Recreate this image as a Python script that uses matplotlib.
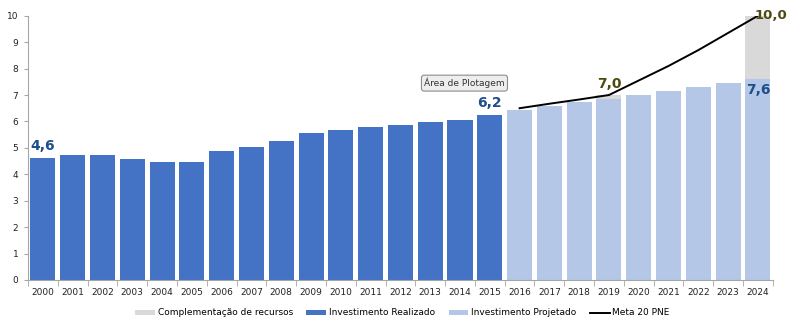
import matplotlib.pyplot as plt
import numpy as np

# dados
anos = [str(a) for a in range(2000, 2025)]
realizado = [4.6, 4.73, 4.73, 4.57, 4.45, 4.48, 4.87, 5.03, 5.26, 5.56, 5.67, 5.79, 5.86,
             5.99, 6.05, 6.24]
projetado = [6.44, 6.58, 6.72, 6.85, 7.0, 7.15, 7.3, 7.44, 7.6]
complemento = [0, 0, 0, 0.15, 0, 0, 0, 0, 2.4]
meta_anos = ['2016', '2017', '2018', '2019', '2020', '2021', '2022', '2023', '2024']
meta = [6.5, 6.67, 6.83, 7.0, 7.55, 8.1, 8.7, 9.35, 10.0]

azul = '#4472C4'
azul_claro = '#B4C7E7'
cinza = '#D9D9D9'

fig = plt.figure(figsize=(7.89, 3.18), dpi=100)
ax = fig.add_axes([0.0355, 0.1195, 0.944, 0.831])

x = np.arange(len(anos))
n_real = len(realizado)
x_real = x[:n_real]
x_proj = x[n_real:]
w = 0.84

ax.bar(x_real, realizado, width=w, color=azul, label='Investimento Realizado', zorder=2)
ax.bar(x_proj, projetado, width=w, color=azul_claro, label='Investimento Projetado', zorder=2)
ax.bar(x_proj, complemento, bottom=projetado, width=w, color=cinza,
       label='Complementação de recursos', zorder=2)
x_meta = [anos.index(a) for a in meta_anos]
ax.plot(x_meta, meta, color='black', lw=1.4, label='Meta 20 PNE', zorder=3)

# eixos
ax.set_xlim(-0.5, len(anos) - 0.5)
ax.set_ylim(0, 10)
ax.set_yticks(range(0, 11))
ax.set_xticks(x)
ax.set_xticklabels(anos)
ax.set_xticks(np.arange(-0.5, len(anos), 1), minor=True)
ax.tick_params(axis='x', which='major', length=0, labelsize=6.5, pad=6, labelcolor='#222222')
ax.tick_params(axis='x', which='minor', length=4, color='#A6A6A6')
ax.tick_params(axis='y', length=3, color='#A6A6A6', labelsize=6.5, labelcolor='#222222', pad=4)
for s in ['top', 'right']:
    ax.spines[s].set_visible(False)
for s in ['left', 'bottom']:
    ax.spines[s].set_color('#A6A6A6')

# rótulos
azul_esc = '#1F4E8C'
oliva = '#4F4A12'
ax.text(0, realizado[0] + 0.2, '4,6', color=azul_esc, fontsize=10, fontweight='bold',
        ha='center', va='bottom')
ax.text(n_real - 1, realizado[-1] + 0.2, '6,2', color=azul_esc, fontsize=10, fontweight='bold',
        ha='center', va='bottom')
ax.text(anos.index('2019'), meta[3] + 0.15, '7,0', color=oliva, fontsize=10, fontweight='bold',
        ha='center', va='bottom')
# 10,0 encostado na borda direita da figura, na altura do valor 10
ax.annotate('10,0', xy=(1.0, meta[-1]), xycoords=('figure fraction', 'data'),
            xytext=(-1, 0), textcoords='offset points', color=oliva, fontsize=9.5,
            fontweight='bold', ha='right', va='center', annotation_clip=False)
ax.text(anos.index('2024'), projetado[-1] - 0.15, '7,6', color=azul_esc, fontsize=10,
        fontweight='bold', ha='center', va='top')

ax.text(14.15, 7.45, 'Área de Plotagem', fontsize=6.5, color='#333333', ha='center', va='center',
        bbox=dict(boxstyle='round,pad=0.3', fc='#EEEEEE', ec='#8C8C8C', lw=0.8))

h, l = ax.get_legend_handles_labels()
ordem = ['Complementação de recursos', 'Investimento Realizado', 'Investimento Projetado', 'Meta 20 PNE']
hh = [h[l.index(o)] for o in ordem]
fig.legend(hh, ordem, loc='center', bbox_to_anchor=(0.51, 0.016), ncol=4, frameon=False,
           fontsize=6.5, handlelength=2.2, handleheight=0.45, columnspacing=1.5, handletextpad=0.3)

fig.savefig('out.png', dpi=100)
